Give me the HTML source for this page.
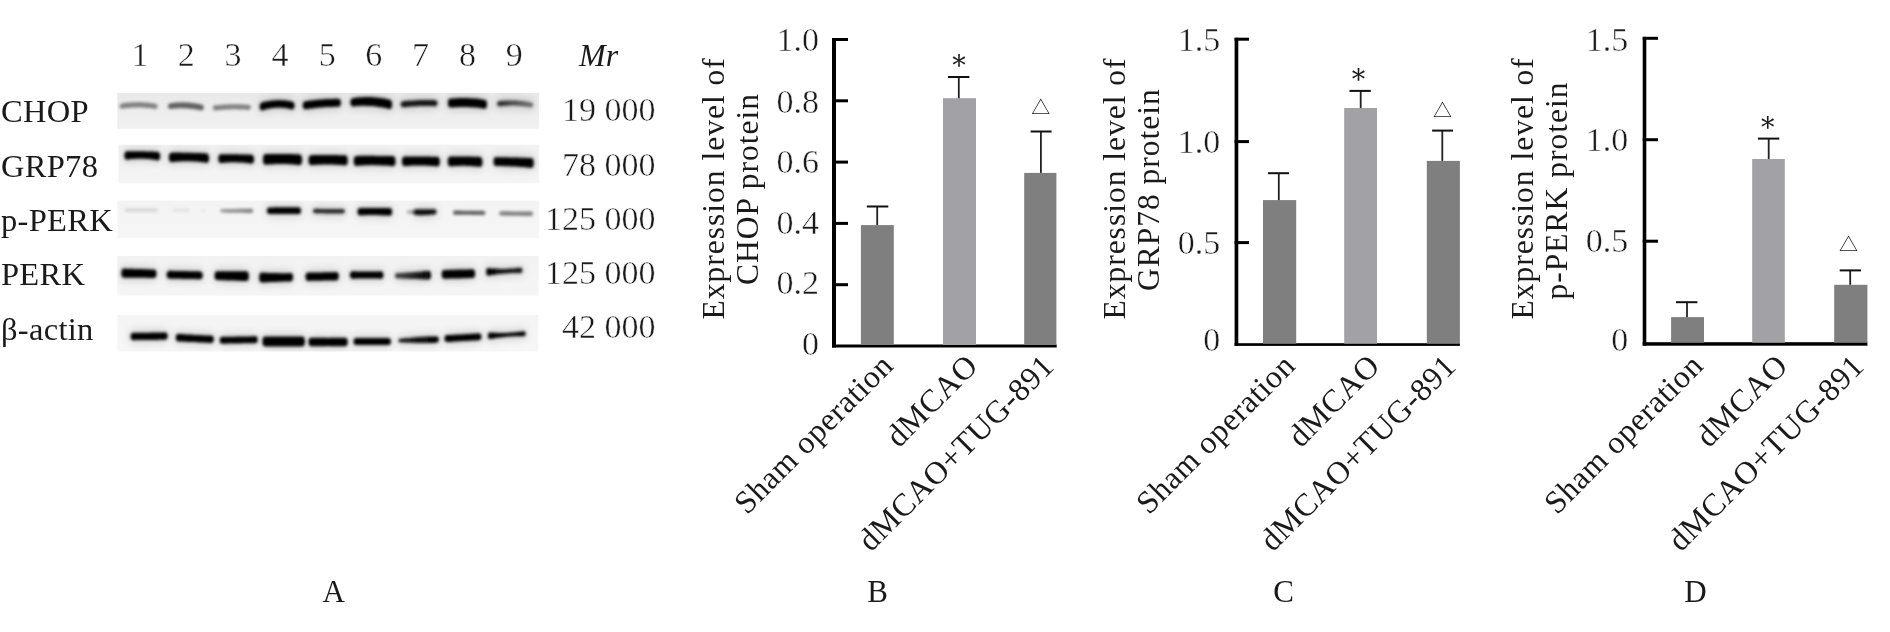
<!DOCTYPE html>
<html><head><meta charset="utf-8"><title>Figure</title><style>
html,body{margin:0;padding:0;background:#fff;}
svg{display:block;will-change:transform}
text{font-family:'Liberation Serif', serif;fill:#1a1a1a;}
.num,.tk{font-size:34px;stroke:#fff;stroke-width:0.45px;}
.mr{font-size:32px;font-style:italic;}
.lab{font-size:32.5px;letter-spacing:0.3px;}
.pl{font-size:31px;}
.yl{font-size:31.5px;letter-spacing:1px;}
.xl{font-size:32px;letter-spacing:0.55px;}
.st{font-family:'DejaVu Serif',serif;font-size:27px;}
.tr{font-family:'Liberation Serif','Noto Sans CJK SC',sans-serif;font-size:19px;}
</style></head>
<body><svg width="1890" height="632" viewBox="0 0 1890 632">
<defs><filter id="bl" x="-10%" y="-100%" width="120%" height="300%"><feGaussianBlur stdDeviation="1.7"/></filter><filter id="halo" x="-30%" y="-200%" width="160%" height="500%"><feGaussianBlur stdDeviation="4.5"/></filter><linearGradient id="sg0" x1="0" y1="0" x2="0" y2="1"><stop offset="0" stop-color="#e9e9e9"/><stop offset="1" stop-color="#f1f1f1"/></linearGradient><clipPath id="cs0"><rect x="117.3" y="93.0" width="421.6" height="35.8"/></clipPath><linearGradient id="sg1" x1="0" y1="0" x2="0" y2="1"><stop offset="0" stop-color="#f1f1f1"/><stop offset="1" stop-color="#f4f4f4"/></linearGradient><clipPath id="cs1"><rect x="118.4" y="144.8" width="420.5" height="38.5"/></clipPath><linearGradient id="sg2" x1="0" y1="0" x2="0" y2="1"><stop offset="0" stop-color="#f3f3f3"/><stop offset="1" stop-color="#f6f6f6"/></linearGradient><clipPath id="cs2"><rect x="117.5" y="200.6" width="421.4" height="37.5"/></clipPath><linearGradient id="sg3" x1="0" y1="0" x2="0" y2="1"><stop offset="0" stop-color="#f2f2f2"/><stop offset="1" stop-color="#f5f5f5"/></linearGradient><clipPath id="cs3"><rect x="117.3" y="256.0" width="421.3" height="39.6"/></clipPath><linearGradient id="sg4" x1="0" y1="0" x2="0" y2="1"><stop offset="0" stop-color="#f4f4f4"/><stop offset="1" stop-color="#f6f6f6"/></linearGradient><clipPath id="cs4"><rect x="117.3" y="315.1" width="421.0" height="36.4"/></clipPath><linearGradient id="bg0" gradientUnits="userSpaceOnUse" x1="496.8" y1="0" x2="532.6" y2="0"><stop offset="0" stop-color="rgb(38,38,38)"/><stop offset="1" stop-color="rgb(115,115,115)"/></linearGradient><linearGradient id="bg1" gradientUnits="userSpaceOnUse" x1="220.8" y1="0" x2="252.7" y2="0"><stop offset="0" stop-color="rgb(153,153,153)"/><stop offset="1" stop-color="rgb(128,128,128)"/></linearGradient><linearGradient id="bg2" gradientUnits="userSpaceOnUse" x1="406.9" y1="0" x2="416.0" y2="0"><stop offset="0" stop-color="rgb(191,191,191)"/><stop offset="1" stop-color="rgb(128,128,128)"/></linearGradient><linearGradient id="bg3" gradientUnits="userSpaceOnUse" x1="453.0" y1="0" x2="485.4" y2="0"><stop offset="0" stop-color="rgb(89,89,89)"/><stop offset="1" stop-color="rgb(102,102,102)"/></linearGradient><linearGradient id="bg4" gradientUnits="userSpaceOnUse" x1="395.5" y1="0" x2="431.4" y2="0"><stop offset="0" stop-color="rgb(71,71,71)"/><stop offset="1" stop-color="rgb(0,0,0)"/></linearGradient><linearGradient id="bg5" gradientUnits="userSpaceOnUse" x1="485.4" y1="0" x2="523.0" y2="0"><stop offset="0" stop-color="rgb(0,0,0)"/><stop offset="1" stop-color="rgb(25,25,25)"/></linearGradient><linearGradient id="bg6" gradientUnits="userSpaceOnUse" x1="399.0" y1="0" x2="438.2" y2="0"><stop offset="0" stop-color="rgb(25,25,25)"/><stop offset="1" stop-color="rgb(0,0,0)"/></linearGradient></defs>
<rect width="1890" height="632" fill="#fff"/>
<rect x="117.3" y="93.0" width="421.6" height="35.8" fill="url(#sg0)"/>
<rect x="118.4" y="144.8" width="420.5" height="38.5" fill="url(#sg1)"/>
<rect x="117.5" y="200.6" width="421.4" height="37.5" fill="url(#sg2)"/>
<rect x="117.3" y="256.0" width="421.3" height="39.6" fill="url(#sg3)"/>
<rect x="117.3" y="315.1" width="421.0" height="36.4" fill="url(#sg4)"/>
<g clip-path="url(#cs0)">
<path d="M122.2,103.4 L124.2,103.1 L126.3,102.8 L128.3,102.6 L130.4,102.4 L132.4,102.3 L134.5,102.2 L136.5,102.2 L138.6,102.1 L140.7,102.2 L142.7,102.3 L144.8,102.4 L146.8,102.6 L148.8,102.8 L150.9,103.0 L152.9,103.3 L155.0,103.7 A2.6,2.6 0 0 1 155.0,109.0 L152.9,108.6 L150.9,108.3 L148.8,108.1 L146.8,107.9 L144.8,107.7 L142.7,107.6 L140.7,107.5 L138.6,107.5 L136.5,107.5 L134.5,107.5 L132.4,107.6 L130.4,107.7 L128.3,107.9 L126.3,108.1 L124.2,108.4 L122.2,108.7 A2.6,2.6 0 0 1 122.2,103.4 Z" fill="rgb(128,128,128)" filter="url(#bl)"/>
<path d="M170.6,103.2 L172.5,103.0 L174.4,102.7 L176.3,102.6 L178.2,102.4 L180.1,102.4 L182.0,102.3 L183.9,102.3 L185.8,102.4 L187.8,102.5 L189.7,102.7 L191.6,102.9 L193.5,103.1 L195.4,103.4 L197.3,103.7 L199.2,104.1 L201.1,104.5 A2.6,3.0 0 0 1 201.1,110.6 L199.2,110.1 L197.3,109.8 L195.4,109.4 L193.5,109.1 L191.6,108.9 L189.7,108.7 L187.8,108.5 L185.8,108.4 L183.9,108.3 L182.0,108.3 L180.1,108.3 L178.2,108.3 L176.3,108.4 L174.4,108.6 L172.5,108.8 L170.6,109.0 A2.6,2.9 0 0 1 170.6,103.2 Z" fill="rgb(97,97,97)" filter="url(#bl)"/>
<path d="M215.5,105.2 L217.6,105.0 L219.6,104.9 L221.7,104.7 L223.7,104.6 L225.8,104.4 L227.8,104.4 L229.9,104.3 L231.9,104.2 L234.0,104.2 L236.0,104.2 L238.1,104.3 L240.1,104.3 L242.2,104.4 L244.2,104.5 L246.3,104.7 L248.3,104.8 A2.5,2.5 0 0 1 248.3,109.9 L246.3,109.7 L244.2,109.6 L242.2,109.5 L240.1,109.4 L238.1,109.4 L236.0,109.3 L234.0,109.3 L231.9,109.3 L229.9,109.4 L227.8,109.5 L225.8,109.6 L223.7,109.7 L221.7,109.9 L219.6,110.1 L217.6,110.3 L215.5,110.5 A2.6,2.6 0 0 1 215.5,105.2 Z" fill="rgb(128,128,128)" filter="url(#bl)"/>
<path d="M261.1,100.1 L263.1,99.6 L265.1,99.1 L267.1,98.7 L269.1,98.4 L271.1,98.1 L273.1,97.9 L275.1,97.7 L277.1,97.7 L279.1,97.6 L281.1,97.7 L283.1,97.8 L285.1,97.9 L287.1,98.1 L289.1,98.4 L291.1,98.8 L293.1,99.2 A2.6,6.6 0 0 1 293.1,112.2 L291.1,111.6 L289.1,111.2 L287.1,110.8 L285.1,110.5 L283.1,110.3 L281.1,110.2 L279.1,110.1 L277.1,110.2 L275.1,110.3 L273.1,110.5 L271.1,110.7 L269.1,111.1 L267.1,111.5 L265.1,112.1 L263.1,112.7 L261.1,113.3 A2.6,6.8 0 0 1 261.1,100.1 Z" fill="#000" opacity="0.14" filter="url(#halo)"/>
<path d="M261.6,102.6 L263.5,102.0 L265.5,101.6 L267.4,101.2 L269.4,100.9 L271.3,100.6 L273.2,100.4 L275.2,100.2 L277.1,100.2 L279.0,100.1 L281.0,100.2 L282.9,100.3 L284.8,100.4 L286.8,100.6 L288.7,100.9 L290.7,101.3 L292.6,101.7 A2.6,4.1 0 0 1 292.6,109.7 L290.7,109.1 L288.7,108.7 L286.8,108.3 L284.8,108.0 L282.9,107.8 L281.0,107.7 L279.0,107.6 L277.1,107.7 L275.2,107.8 L273.2,108.0 L271.3,108.2 L269.4,108.6 L267.4,109.0 L265.5,109.5 L263.5,110.1 L261.6,110.8 A2.6,4.2 0 0 1 261.6,102.6 Z" fill="rgb(0,0,0)" filter="url(#bl)"/>
<path d="M304.9,98.7 L307.0,98.4 L309.1,98.1 L311.3,97.9 L313.4,97.7 L315.5,97.4 L317.6,97.2 L319.7,97.1 L321.9,96.9 L324.0,96.8 L326.1,96.6 L328.2,96.5 L330.3,96.4 L332.4,96.4 L334.6,96.3 L336.7,96.3 L338.8,96.3 A2.6,6.5 0 0 1 338.8,109.3 L336.7,109.3 L334.6,109.3 L332.4,109.4 L330.3,109.4 L328.2,109.5 L326.1,109.6 L324.0,109.7 L321.9,109.9 L319.7,110.1 L317.6,110.3 L315.5,110.5 L313.4,110.7 L311.3,111.0 L309.1,111.3 L307.0,111.6 L304.9,111.9 A2.6,6.6 0 0 1 304.9,98.7 Z" fill="#000" opacity="0.14" filter="url(#halo)"/>
<path d="M305.4,101.2 L307.5,100.9 L309.5,100.6 L311.6,100.4 L313.6,100.2 L315.7,99.9 L317.7,99.7 L319.8,99.6 L321.9,99.4 L323.9,99.3 L326.0,99.1 L328.0,99.0 L330.1,98.9 L332.1,98.9 L334.2,98.8 L336.2,98.8 L338.3,98.8 A2.6,4.0 0 0 1 338.3,106.8 L336.2,106.8 L334.2,106.8 L332.1,106.9 L330.1,106.9 L328.0,107.0 L326.0,107.1 L323.9,107.2 L321.9,107.4 L319.8,107.6 L317.7,107.8 L315.7,108.0 L313.6,108.2 L311.6,108.5 L309.5,108.7 L307.5,109.0 L305.4,109.4 A2.6,4.1 0 0 1 305.4,101.2 Z" fill="rgb(0,0,0)" filter="url(#bl)"/>
<path d="M352.5,95.7 L354.9,95.3 L357.2,95.0 L359.6,94.8 L362.0,94.7 L364.4,94.6 L366.8,94.5 L369.1,94.5 L371.5,94.6 L373.9,94.7 L376.2,94.9 L378.6,95.2 L381.0,95.5 L383.4,95.8 L385.8,96.3 L388.1,96.7 L390.5,97.3 A2.6,7.2 0 0 1 390.5,111.7 L388.1,111.2 L385.8,110.6 L383.4,110.2 L381.0,109.7 L378.6,109.4 L376.2,109.1 L373.9,108.8 L371.5,108.6 L369.1,108.5 L366.8,108.4 L364.4,108.3 L362.0,108.3 L359.6,108.4 L357.2,108.6 L354.9,108.7 L352.5,109.0 A2.6,6.6 0 0 1 352.5,95.7 Z" fill="#000" opacity="0.14" filter="url(#halo)"/>
<path d="M353.0,98.2 L355.3,97.8 L357.6,97.5 L359.9,97.3 L362.2,97.2 L364.6,97.1 L366.9,97.0 L369.2,97.0 L371.5,97.1 L373.8,97.2 L376.1,97.4 L378.4,97.7 L380.8,98.0 L383.1,98.3 L385.4,98.8 L387.7,99.2 L390.0,99.8 A2.6,4.8 0 0 1 390.0,109.2 L387.7,108.6 L385.4,108.1 L383.1,107.6 L380.8,107.2 L378.4,106.9 L376.1,106.6 L373.8,106.3 L371.5,106.1 L369.2,106.0 L366.9,105.9 L364.6,105.8 L362.2,105.8 L359.9,105.9 L357.6,106.0 L355.3,106.2 L353.0,106.5 A2.6,4.1 0 0 1 353.0,98.2 Z" fill="rgb(0,0,0)" filter="url(#bl)"/>
<path d="M402.8,98.7 L404.9,98.5 L406.9,98.3 L409.0,98.2 L411.1,98.0 L413.2,97.9 L415.2,97.8 L417.3,97.7 L419.4,97.6 L421.5,97.5 L423.6,97.5 L425.6,97.5 L427.7,97.5 L429.8,97.5 L431.9,97.5 L433.9,97.6 L436.0,97.7 A2.6,5.6 0 0 1 436.0,108.8 L433.9,108.7 L431.9,108.6 L429.8,108.6 L427.7,108.5 L425.6,108.5 L423.6,108.5 L421.5,108.5 L419.4,108.6 L417.3,108.7 L415.2,108.8 L413.2,108.9 L411.1,109.0 L409.0,109.2 L406.9,109.4 L404.9,109.6 L402.8,109.9 A2.6,5.6 0 0 1 402.8,98.7 Z" fill="#000" opacity="0.14" filter="url(#halo)"/>
<path d="M403.3,101.2 L405.3,101.0 L407.3,100.8 L409.3,100.7 L411.4,100.5 L413.4,100.4 L415.4,100.3 L417.4,100.2 L419.4,100.1 L421.4,100.0 L423.4,100.0 L425.4,100.0 L427.4,100.0 L429.5,100.0 L431.5,100.0 L433.5,100.1 L435.5,100.2 A2.6,3.1 0 0 1 435.5,106.3 L433.5,106.2 L431.5,106.1 L429.5,106.1 L427.4,106.0 L425.4,106.0 L423.4,106.0 L421.4,106.0 L419.4,106.1 L417.4,106.2 L415.4,106.3 L413.4,106.4 L411.4,106.5 L409.3,106.7 L407.3,106.9 L405.3,107.1 L403.3,107.4 A2.6,3.1 0 0 1 403.3,101.2 Z" fill="rgb(20,20,20)" filter="url(#bl)"/>
<path d="M450.0,96.1 L452.2,96.0 L454.4,95.8 L456.5,95.7 L458.7,95.6 L460.9,95.6 L463.1,95.5 L465.3,95.6 L467.4,95.6 L469.6,95.7 L471.8,95.8 L474.0,95.9 L476.2,96.1 L478.4,96.3 L480.5,96.6 L482.7,96.9 L484.9,97.2 A2.6,7.0 0 0 1 484.9,111.2 L482.7,110.9 L480.5,110.6 L478.4,110.3 L476.2,110.1 L474.0,109.9 L471.8,109.8 L469.6,109.7 L467.4,109.6 L465.3,109.6 L463.1,109.5 L460.9,109.6 L458.7,109.6 L456.5,109.7 L454.4,109.8 L452.2,110.0 L450.0,110.1 A2.6,7.0 0 0 1 450.0,96.1 Z" fill="#000" opacity="0.14" filter="url(#halo)"/>
<path d="M450.5,98.6 L452.6,98.5 L454.7,98.3 L456.9,98.2 L459.0,98.1 L461.1,98.1 L463.2,98.0 L465.3,98.1 L467.4,98.1 L469.6,98.2 L471.7,98.3 L473.8,98.4 L475.9,98.6 L478.0,98.8 L480.2,99.1 L482.3,99.4 L484.4,99.7 A2.6,4.5 0 0 1 484.4,108.7 L482.3,108.4 L480.2,108.1 L478.0,107.8 L475.9,107.6 L473.8,107.4 L471.7,107.3 L469.6,107.2 L467.4,107.1 L465.3,107.1 L463.2,107.0 L461.1,107.1 L459.0,107.1 L456.9,107.2 L454.7,107.3 L452.6,107.5 L450.5,107.6 A2.6,4.5 0 0 1 450.5,98.6 Z" fill="rgb(0,0,0)" filter="url(#bl)"/>
<path d="M498.4,98.3 L500.4,98.1 L502.5,98.0 L504.5,97.9 L506.6,97.8 L508.6,97.7 L510.6,97.7 L512.7,97.7 L514.7,97.8 L516.7,97.9 L518.8,98.0 L520.8,98.2 L522.9,98.4 L524.9,98.6 L526.9,98.9 L529.0,99.2 L531.0,99.5 A2.6,5.4 0 0 1 531.0,110.2 L529.0,109.9 L526.9,109.5 L524.9,109.2 L522.9,109.0 L520.8,108.8 L518.8,108.6 L516.7,108.5 L514.7,108.4 L512.7,108.4 L510.6,108.4 L508.6,108.4 L506.6,108.5 L504.5,108.7 L502.5,108.9 L500.4,109.1 L498.4,109.4 A2.6,5.6 0 0 1 498.4,98.3 Z" fill="#000" opacity="0.14" filter="url(#halo)"/>
<path d="M498.9,101.1 L500.9,100.9 L502.9,100.7 L504.8,100.6 L506.8,100.5 L508.8,100.5 L510.8,100.5 L512.7,100.5 L514.7,100.5 L516.7,100.6 L518.6,100.8 L520.6,100.9 L522.6,101.1 L524.6,101.4 L526.5,101.6 L528.5,101.9 L530.5,102.3 A2.6,2.6 0 0 1 530.5,107.5 L528.5,107.1 L526.5,106.8 L524.6,106.5 L522.6,106.2 L520.6,106.0 L518.6,105.8 L516.7,105.7 L514.7,105.6 L512.7,105.6 L510.8,105.6 L508.8,105.7 L506.8,105.8 L504.8,105.9 L502.9,106.1 L500.9,106.3 L498.9,106.6 A2.6,2.9 0 0 1 498.9,101.1 Z" fill="url(#bg0)" filter="url(#bl)"/>
</g>
<g clip-path="url(#cs1)">
<path d="M125.7,148.7 L127.8,148.7 L129.8,148.7 L131.9,148.7 L134.0,148.7 L136.1,148.7 L138.2,148.7 L140.2,148.7 L142.3,148.8 L144.4,148.8 L146.4,148.9 L148.5,148.9 L150.6,149.0 L152.7,149.1 L154.8,149.2 L156.8,149.3 L158.9,149.4 A2.6,7.0 0 0 1 158.9,163.1 L156.8,162.7 L154.8,162.3 L152.7,162.0 L150.6,161.8 L148.5,161.6 L146.4,161.4 L144.4,161.3 L142.3,161.2 L140.2,161.2 L138.2,161.3 L136.1,161.3 L134.0,161.4 L131.9,161.6 L129.8,161.8 L127.8,162.1 L125.7,162.4 A2.6,7.0 0 0 1 125.7,148.7 Z" fill="#000" opacity="0.14" filter="url(#halo)"/>
<path d="M126.2,151.2 L128.2,151.2 L130.2,151.2 L132.2,151.2 L134.2,151.2 L136.3,151.2 L138.3,151.2 L140.3,151.2 L142.3,151.2 L144.3,151.3 L146.3,151.4 L148.3,151.4 L150.3,151.5 L152.4,151.6 L154.4,151.7 L156.4,151.8 L158.4,151.9 A2.6,4.5 0 0 1 158.4,160.5 L156.4,160.2 L154.4,159.8 L152.4,159.5 L150.3,159.3 L148.3,159.1 L146.3,158.9 L144.3,158.8 L142.3,158.8 L140.3,158.7 L138.3,158.8 L136.3,158.8 L134.2,158.9 L132.2,159.1 L130.2,159.3 L128.2,159.6 L126.2,159.9 A2.6,4.5 0 0 1 126.2,151.2 Z" fill="rgb(0,0,0)" filter="url(#bl)"/>
<path d="M170.3,150.2 L172.6,150.1 L175.0,150.1 L177.3,150.1 L179.6,150.1 L182.0,150.2 L184.3,150.2 L186.6,150.2 L188.9,150.2 L191.3,150.3 L193.6,150.4 L195.9,150.4 L198.3,150.5 L200.6,150.6 L202.9,150.7 L205.3,150.8 L207.6,150.9 A2.6,7.4 0 0 1 207.6,165.4 L205.3,165.0 L202.9,164.7 L200.6,164.5 L198.3,164.2 L195.9,164.1 L193.6,163.9 L191.3,163.8 L188.9,163.8 L186.6,163.7 L184.3,163.7 L182.0,163.8 L179.6,163.9 L177.3,164.0 L175.0,164.2 L172.6,164.4 L170.3,164.7 A2.6,7.4 0 0 1 170.3,150.2 Z" fill="#000" opacity="0.14" filter="url(#halo)"/>
<path d="M170.8,152.7 L173.1,152.6 L175.3,152.6 L177.6,152.6 L179.9,152.6 L182.1,152.7 L184.4,152.7 L186.7,152.7 L188.9,152.8 L191.2,152.8 L193.5,152.9 L195.8,152.9 L198.0,153.0 L200.3,153.1 L202.6,153.2 L204.8,153.3 L207.1,153.4 A2.6,4.9 0 0 1 207.1,162.9 L204.8,162.5 L202.6,162.2 L200.3,162.0 L198.0,161.7 L195.8,161.6 L193.5,161.4 L191.2,161.3 L188.9,161.2 L186.7,161.2 L184.4,161.2 L182.1,161.3 L179.9,161.4 L177.6,161.5 L175.3,161.7 L173.1,161.9 L170.8,162.2 A2.6,4.9 0 0 1 170.8,152.7 Z" fill="rgb(0,0,0)" filter="url(#bl)"/>
<path d="M219.6,151.8 L221.7,151.7 L223.8,151.7 L225.8,151.7 L227.9,151.7 L230.0,151.7 L232.1,151.7 L234.1,151.8 L236.2,151.8 L238.3,151.8 L240.3,151.9 L242.4,151.9 L244.5,152.0 L246.6,152.0 L248.7,152.1 L250.7,152.2 L252.8,152.3 A2.6,7.2 0 0 1 252.8,166.3 L250.7,166.0 L248.7,165.7 L246.6,165.5 L244.5,165.3 L242.4,165.1 L240.3,165.0 L238.3,164.9 L236.2,164.8 L234.1,164.8 L232.1,164.8 L230.0,164.8 L227.9,164.9 L225.8,165.1 L223.8,165.2 L221.7,165.4 L219.6,165.7 A2.6,7.1 0 0 1 219.6,151.8 Z" fill="#000" opacity="0.14" filter="url(#halo)"/>
<path d="M220.1,154.3 L222.1,154.2 L224.1,154.2 L226.1,154.2 L228.2,154.2 L230.2,154.2 L232.2,154.2 L234.2,154.3 L236.2,154.3 L238.2,154.3 L240.2,154.4 L242.2,154.4 L244.2,154.5 L246.3,154.5 L248.3,154.6 L250.3,154.7 L252.3,154.8 A2.6,4.7 0 0 1 252.3,163.8 L250.3,163.5 L248.3,163.2 L246.3,163.0 L244.2,162.8 L242.2,162.6 L240.2,162.5 L238.2,162.4 L236.2,162.3 L234.2,162.3 L232.2,162.3 L230.2,162.3 L228.2,162.4 L226.1,162.5 L224.1,162.7 L222.1,162.9 L220.1,163.1 A2.6,4.6 0 0 1 220.1,154.3 Z" fill="rgb(0,0,0)" filter="url(#bl)"/>
<path d="M264.5,151.6 L266.8,151.5 L269.0,151.5 L271.2,151.5 L273.5,151.5 L275.8,151.5 L278.0,151.5 L280.2,151.5 L282.5,151.5 L284.8,151.5 L287.0,151.6 L289.2,151.6 L291.5,151.6 L293.8,151.7 L296.0,151.8 L298.2,151.8 L300.5,151.9 A2.6,8.0 0 0 1 300.5,167.7 L298.2,167.4 L296.0,167.2 L293.8,167.0 L291.5,166.8 L289.2,166.7 L287.0,166.6 L284.8,166.5 L282.5,166.5 L280.2,166.5 L278.0,166.5 L275.8,166.6 L273.5,166.7 L271.2,166.8 L269.0,166.9 L266.8,167.1 L264.5,167.3 A2.6,8.0 0 0 1 264.5,151.6 Z" fill="#000" opacity="0.14" filter="url(#halo)"/>
<path d="M265.0,154.1 L267.2,154.0 L269.4,154.0 L271.6,154.0 L273.8,154.0 L275.9,154.0 L278.1,154.0 L280.3,154.0 L282.5,154.0 L284.7,154.0 L286.9,154.1 L289.1,154.1 L291.2,154.1 L293.4,154.2 L295.6,154.3 L297.8,154.3 L300.0,154.4 A2.6,5.5 0 0 1 300.0,165.2 L297.8,164.9 L295.6,164.7 L293.4,164.5 L291.2,164.3 L289.1,164.2 L286.9,164.1 L284.7,164.0 L282.5,164.0 L280.3,164.0 L278.1,164.0 L275.9,164.1 L273.8,164.2 L271.6,164.3 L269.4,164.4 L267.2,164.6 L265.0,164.8 A2.6,5.5 0 0 1 265.0,154.1 Z" fill="rgb(0,0,0)" filter="url(#bl)"/>
<path d="M310.0,152.7 L312.3,152.6 L314.5,152.6 L316.8,152.6 L319.1,152.6 L321.3,152.5 L323.6,152.5 L325.8,152.5 L328.1,152.6 L330.4,152.6 L332.6,152.6 L334.9,152.6 L337.1,152.6 L339.4,152.7 L341.7,152.7 L343.9,152.8 L346.2,152.8 A2.6,7.7 0 0 1 346.2,168.0 L343.9,167.8 L341.7,167.6 L339.4,167.4 L337.1,167.3 L334.9,167.2 L332.6,167.1 L330.4,167.1 L328.1,167.1 L325.8,167.1 L323.6,167.1 L321.3,167.1 L319.1,167.2 L316.8,167.3 L314.5,167.5 L312.3,167.6 L310.0,167.8 A2.6,7.7 0 0 1 310.0,152.7 Z" fill="#000" opacity="0.14" filter="url(#halo)"/>
<path d="M310.5,155.2 L312.7,155.1 L314.9,155.1 L317.1,155.1 L319.3,155.1 L321.5,155.0 L323.7,155.0 L325.9,155.0 L328.1,155.1 L330.3,155.1 L332.5,155.1 L334.7,155.1 L336.9,155.1 L339.1,155.2 L341.3,155.2 L343.5,155.3 L345.7,155.3 A2.6,5.2 0 0 1 345.7,165.5 L343.5,165.3 L341.3,165.1 L339.1,164.9 L336.9,164.8 L334.7,164.7 L332.5,164.6 L330.3,164.6 L328.1,164.6 L325.9,164.6 L323.7,164.6 L321.5,164.6 L319.3,164.7 L317.1,164.8 L314.9,165.0 L312.7,165.1 L310.5,165.3 A2.6,5.2 0 0 1 310.5,155.2 Z" fill="rgb(0,0,0)" filter="url(#bl)"/>
<path d="M355.3,153.4 L357.7,153.4 L360.1,153.3 L362.5,153.3 L364.9,153.3 L367.4,153.3 L369.8,153.3 L372.2,153.3 L374.6,153.3 L377.0,153.4 L379.4,153.4 L381.8,153.4 L384.2,153.5 L386.7,153.5 L389.1,153.5 L391.5,153.6 L393.9,153.6 A2.6,7.7 0 0 1 393.9,168.8 L391.5,168.6 L389.1,168.3 L386.7,168.2 L384.2,168.0 L381.8,167.9 L379.4,167.8 L377.0,167.7 L374.6,167.7 L372.2,167.6 L369.8,167.7 L367.4,167.7 L364.9,167.8 L362.5,167.9 L360.1,168.0 L357.7,168.2 L355.3,168.4 A2.6,7.6 0 0 1 355.3,153.4 Z" fill="#000" opacity="0.14" filter="url(#halo)"/>
<path d="M355.8,155.9 L358.2,155.9 L360.5,155.8 L362.9,155.8 L365.2,155.8 L367.6,155.8 L369.9,155.8 L372.2,155.8 L374.6,155.8 L376.9,155.9 L379.3,155.9 L381.6,155.9 L384.0,156.0 L386.3,156.0 L388.7,156.0 L391.0,156.1 L393.4,156.1 A2.6,5.2 0 0 1 393.4,166.3 L391.0,166.1 L388.7,165.8 L386.3,165.6 L384.0,165.5 L381.6,165.4 L379.3,165.3 L376.9,165.2 L374.6,165.2 L372.2,165.1 L369.9,165.2 L367.6,165.2 L365.2,165.3 L362.9,165.4 L360.5,165.5 L358.2,165.7 L355.8,165.9 A2.6,5.1 0 0 1 355.8,155.9 Z" fill="rgb(0,0,0)" filter="url(#bl)"/>
<path d="M403.4,154.0 L405.6,154.0 L407.8,154.0 L409.9,154.0 L412.1,154.0 L414.3,154.0 L416.5,154.0 L418.7,154.0 L420.9,154.0 L423.0,154.0 L425.2,154.1 L427.4,154.1 L429.6,154.1 L431.8,154.2 L433.9,154.2 L436.1,154.3 L438.3,154.3 A2.6,7.5 0 0 1 438.3,169.1 L436.1,168.8 L433.9,168.6 L431.8,168.5 L429.6,168.3 L427.4,168.2 L425.2,168.1 L423.0,168.0 L420.9,168.0 L418.7,168.0 L416.5,168.0 L414.3,168.1 L412.1,168.1 L409.9,168.2 L407.8,168.4 L405.6,168.5 L403.4,168.7 A2.6,7.5 0 0 1 403.4,154.0 Z" fill="#000" opacity="0.14" filter="url(#halo)"/>
<path d="M403.9,156.5 L406.0,156.5 L408.1,156.5 L410.3,156.5 L412.4,156.5 L414.5,156.5 L416.6,156.5 L418.7,156.5 L420.9,156.5 L423.0,156.5 L425.1,156.6 L427.2,156.6 L429.3,156.6 L431.4,156.7 L433.6,156.7 L435.7,156.8 L437.8,156.8 A2.6,5.0 0 0 1 437.8,166.6 L435.7,166.3 L433.6,166.1 L431.4,166.0 L429.3,165.8 L427.2,165.7 L425.1,165.6 L423.0,165.5 L420.9,165.5 L418.7,165.5 L416.6,165.5 L414.5,165.6 L412.4,165.6 L410.3,165.7 L408.1,165.9 L406.0,166.0 L403.9,166.2 A2.6,5.0 0 0 1 403.9,156.5 Z" fill="rgb(0,0,0)" filter="url(#bl)"/>
<path d="M449.2,154.1 L451.2,154.0 L453.2,154.0 L455.2,154.0 L457.2,154.0 L459.1,154.0 L461.1,154.0 L463.1,154.0 L465.1,154.0 L467.1,154.1 L469.1,154.1 L471.1,154.1 L473.1,154.2 L475.0,154.2 L477.0,154.3 L479.0,154.3 L481.0,154.4 A2.6,7.7 0 0 1 481.0,169.5 L479.0,169.3 L477.0,169.1 L475.0,168.9 L473.1,168.7 L471.1,168.6 L469.1,168.5 L467.1,168.4 L465.1,168.3 L463.1,168.3 L461.1,168.3 L459.1,168.4 L457.2,168.5 L455.2,168.5 L453.2,168.7 L451.2,168.8 L449.2,169.0 A2.6,7.6 0 0 1 449.2,154.1 Z" fill="#000" opacity="0.14" filter="url(#halo)"/>
<path d="M449.7,156.6 L451.6,156.5 L453.6,156.5 L455.5,156.5 L457.4,156.5 L459.3,156.5 L461.2,156.5 L463.2,156.5 L465.1,156.5 L467.0,156.6 L469.0,156.6 L470.9,156.6 L472.8,156.7 L474.7,156.7 L476.6,156.8 L478.6,156.8 L480.5,156.9 A2.6,5.2 0 0 1 480.5,167.0 L478.6,166.8 L476.6,166.6 L474.7,166.4 L472.8,166.2 L470.9,166.1 L469.0,166.0 L467.0,165.9 L465.1,165.8 L463.2,165.8 L461.2,165.8 L459.3,165.9 L457.4,166.0 L455.5,166.0 L453.6,166.2 L451.6,166.3 L449.7,166.5 A2.6,5.1 0 0 1 449.7,156.6 Z" fill="rgb(0,0,0)" filter="url(#bl)"/>
<path d="M495.6,154.6 L497.9,154.7 L500.2,154.7 L502.5,154.8 L504.8,154.8 L507.0,154.8 L509.3,154.9 L511.6,154.9 L513.9,155.0 L516.2,155.1 L518.5,155.1 L520.8,155.2 L523.0,155.2 L525.3,155.3 L527.6,155.4 L529.9,155.4 L532.2,155.5 A2.6,7.6 0 0 1 532.2,170.5 L529.9,170.3 L527.6,170.0 L525.3,169.8 L523.0,169.6 L520.8,169.4 L518.5,169.3 L516.2,169.1 L513.9,169.0 L511.6,168.9 L509.3,168.8 L507.0,168.7 L504.8,168.7 L502.5,168.6 L500.2,168.6 L497.9,168.6 L495.6,168.6 A2.6,7.0 0 0 1 495.6,154.6 Z" fill="#000" opacity="0.14" filter="url(#halo)"/>
<path d="M496.1,157.1 L498.3,157.2 L500.6,157.2 L502.8,157.3 L505.0,157.3 L507.2,157.3 L509.4,157.4 L511.7,157.4 L513.9,157.5 L516.1,157.6 L518.3,157.6 L520.6,157.7 L522.8,157.7 L525.0,157.8 L527.2,157.9 L529.5,157.9 L531.7,158.0 A2.6,5.1 0 0 1 531.7,168.0 L529.5,167.7 L527.2,167.5 L525.0,167.3 L522.8,167.1 L520.6,166.9 L518.3,166.8 L516.1,166.6 L513.9,166.5 L511.7,166.4 L509.4,166.3 L507.2,166.2 L505.0,166.2 L502.8,166.1 L500.6,166.1 L498.3,166.1 L496.1,166.1 A2.6,4.5 0 0 1 496.1,157.1 Z" fill="rgb(0,0,0)" filter="url(#bl)"/>
</g>
<g clip-path="url(#cs2)">
<path d="M125.9,208.5 L127.8,208.5 L129.7,208.5 L131.6,208.5 L133.6,208.5 L135.5,208.5 L137.4,208.5 L139.3,208.5 L141.2,208.5 L143.1,208.5 L145.0,208.5 L146.9,208.5 L148.8,208.5 L150.8,208.5 L152.7,208.5 L154.6,208.5 L156.5,208.5 A1.7,1.7 0 0 1 156.5,211.9 L154.6,211.9 L152.7,211.9 L150.8,211.9 L148.8,211.9 L146.9,211.9 L145.0,211.9 L143.1,211.9 L141.2,211.9 L139.3,211.9 L137.4,211.9 L135.5,211.9 L133.6,211.9 L131.6,211.9 L129.7,211.9 L127.8,211.9 L125.9,211.9 A1.7,1.7 0 0 1 125.9,208.5 Z" fill="rgb(214,214,214)" filter="url(#bl)"/>
<path d="M174.0,208.7 L174.9,208.7 L175.8,208.7 L176.6,208.7 L177.5,208.7 L178.4,208.7 L179.2,208.7 L180.1,208.7 L181.0,208.7 L181.9,208.7 L182.8,208.7 L183.6,208.7 L184.5,208.7 L185.4,208.7 L186.2,208.7 L187.1,208.7 L188.0,208.7 A1.5,1.5 0 0 1 188.0,211.7 L187.1,211.7 L186.2,211.7 L185.4,211.7 L184.5,211.7 L183.6,211.7 L182.8,211.7 L181.9,211.7 L181.0,211.7 L180.1,211.7 L179.2,211.7 L178.4,211.7 L177.5,211.7 L176.6,211.7 L175.8,211.7 L174.9,211.7 L174.0,211.7 A1.5,1.5 0 0 1 174.0,208.7 Z" fill="rgb(224,224,224)" filter="url(#bl)"/>
<path d="M201.9,209.4 L202.1,209.3 L202.2,209.3 L202.3,209.4 L202.5,209.3 L202.6,209.4 L202.7,209.4 L202.9,209.4 L203.0,209.4 L203.1,209.4 L203.3,209.4 L203.4,209.4 L203.5,209.4 L203.7,209.4 L203.8,209.4 L203.9,209.3 L204.1,209.4 A1.4,1.4 0 0 1 204.1,212.3 L203.9,212.2 L203.8,212.2 L203.7,212.2 L203.5,212.2 L203.4,212.2 L203.3,212.2 L203.1,212.2 L203.0,212.2 L202.9,212.2 L202.7,212.3 L202.6,212.2 L202.5,212.2 L202.3,212.2 L202.2,212.2 L202.1,212.2 L201.9,212.2 A1.4,1.4 0 0 1 201.9,209.4 Z" fill="rgb(230,230,230)" filter="url(#bl)"/>
<path d="M222.1,209.0 L223.9,209.0 L225.7,209.0 L227.5,208.9 L229.3,208.9 L231.1,208.9 L232.9,208.9 L234.7,208.9 L236.6,208.9 L238.4,208.8 L240.2,208.8 L242.0,208.8 L243.8,208.8 L245.6,208.7 L247.4,208.7 L249.2,208.7 L251.0,208.6 A2.2,2.2 0 0 1 251.0,213.0 L249.2,212.9 L247.4,212.9 L245.6,212.9 L243.8,212.8 L242.0,212.8 L240.2,212.8 L238.4,212.8 L236.6,212.7 L234.7,212.7 L232.9,212.7 L231.1,212.7 L229.3,212.7 L227.5,212.7 L225.7,212.6 L223.9,212.6 L222.1,212.6 A1.8,1.8 0 0 1 222.1,209.0 Z" fill="url(#bg1)" filter="url(#bl)"/>
<path d="M268.5,204.8 L270.4,204.8 L272.4,204.8 L274.3,204.7 L276.2,204.7 L278.2,204.7 L280.1,204.7 L282.0,204.7 L283.9,204.7 L285.9,204.7 L287.8,204.7 L289.7,204.7 L291.7,204.7 L293.6,204.7 L295.5,204.7 L297.5,204.7 L299.4,204.7 A2.6,6.1 0 0 1 299.4,216.8 L297.5,216.7 L295.5,216.7 L293.6,216.6 L291.7,216.6 L289.7,216.6 L287.8,216.5 L285.9,216.5 L283.9,216.5 L282.0,216.5 L280.1,216.5 L278.2,216.5 L276.2,216.5 L274.3,216.6 L272.4,216.6 L270.4,216.7 L268.5,216.7 A2.6,6.0 0 0 1 268.5,204.8 Z" fill="#000" opacity="0.14" filter="url(#halo)"/>
<path d="M269.0,207.4 L270.9,207.4 L272.7,207.4 L274.6,207.3 L276.5,207.3 L278.3,207.3 L280.2,207.3 L282.1,207.3 L283.9,207.3 L285.8,207.3 L287.7,207.3 L289.6,207.3 L291.4,207.3 L293.3,207.3 L295.2,207.3 L297.0,207.3 L298.9,207.3 A2.6,3.5 0 0 1 298.9,214.2 L297.0,214.1 L295.2,214.1 L293.3,214.0 L291.4,214.0 L289.6,214.0 L287.7,213.9 L285.8,213.9 L283.9,213.9 L282.1,213.9 L280.2,213.9 L278.3,213.9 L276.5,213.9 L274.6,214.0 L272.7,214.0 L270.9,214.1 L269.0,214.1 A2.6,3.4 0 0 1 269.0,207.4 Z" fill="rgb(0,0,0)" filter="url(#bl)"/>
<path d="M314.6,206.0 L316.4,206.0 L318.2,206.0 L320.0,206.1 L321.8,206.1 L323.6,206.1 L325.4,206.2 L327.2,206.2 L328.9,206.2 L330.7,206.2 L332.5,206.2 L334.3,206.3 L336.1,206.3 L337.9,206.3 L339.7,206.3 L341.5,206.3 L343.3,206.3 A2.6,5.1 0 0 1 343.3,216.4 L341.5,216.4 L339.7,216.4 L337.9,216.3 L336.1,216.3 L334.3,216.3 L332.5,216.2 L330.7,216.2 L328.9,216.2 L327.2,216.2 L325.4,216.2 L323.6,216.1 L321.8,216.1 L320.0,216.1 L318.2,216.1 L316.4,216.1 L314.6,216.1 A2.6,5.1 0 0 1 314.6,206.0 Z" fill="#000" opacity="0.14" filter="url(#halo)"/>
<path d="M314.8,208.8 L316.6,208.8 L318.3,208.8 L320.1,208.9 L321.9,208.9 L323.6,208.9 L325.4,209.0 L327.2,209.0 L328.9,209.0 L330.7,209.0 L332.5,209.0 L334.3,209.1 L336.0,209.1 L337.8,209.1 L339.6,209.1 L341.3,209.1 L343.1,209.1 A2.3,2.3 0 0 1 343.1,213.6 L341.3,213.6 L339.6,213.6 L337.8,213.5 L336.0,213.5 L334.3,213.5 L332.5,213.4 L330.7,213.4 L328.9,213.4 L327.2,213.4 L325.4,213.4 L323.6,213.3 L321.9,213.3 L320.1,213.3 L318.3,213.3 L316.6,213.3 L314.8,213.3 A2.3,2.3 0 0 1 314.8,208.8 Z" fill="rgb(38,38,38)" filter="url(#bl)"/>
<path d="M359.6,205.4 L361.5,205.4 L363.5,205.4 L365.4,205.4 L367.3,205.3 L369.3,205.3 L371.2,205.3 L373.1,205.3 L375.1,205.3 L377.0,205.3 L378.9,205.3 L380.8,205.3 L382.8,205.3 L384.7,205.4 L386.6,205.4 L388.6,205.4 L390.5,205.4 A2.6,6.5 0 0 1 390.5,218.3 L388.6,218.2 L386.6,218.1 L384.7,218.0 L382.8,217.9 L380.8,217.8 L378.9,217.8 L377.0,217.7 L375.1,217.7 L373.1,217.7 L371.2,217.7 L369.3,217.7 L367.3,217.7 L365.4,217.8 L363.5,217.8 L361.5,217.9 L359.6,218.0 A2.6,6.3 0 0 1 359.6,205.4 Z" fill="#000" opacity="0.14" filter="url(#halo)"/>
<path d="M360.1,208.0 L362.0,208.0 L363.8,208.0 L365.7,208.0 L367.6,207.9 L369.4,207.9 L371.3,207.9 L373.2,207.9 L375.1,207.9 L376.9,207.9 L378.8,207.9 L380.7,207.9 L382.5,207.9 L384.4,208.0 L386.3,208.0 L388.1,208.0 L390.0,208.0 A2.6,3.9 0 0 1 390.0,215.7 L388.1,215.6 L386.3,215.5 L384.4,215.4 L382.5,215.3 L380.7,215.2 L378.8,215.2 L376.9,215.1 L375.1,215.1 L373.2,215.1 L371.3,215.1 L369.4,215.1 L367.6,215.1 L365.7,215.2 L363.8,215.2 L362.0,215.3 L360.1,215.4 A2.6,3.7 0 0 1 360.1,208.0 Z" fill="rgb(0,0,0)" filter="url(#bl)"/>
<path d="M408.1,210.3 L408.5,210.3 L408.9,210.3 L409.3,210.3 L409.7,210.3 L410.1,210.3 L410.5,210.3 L410.9,210.3 L411.3,210.3 L411.7,210.3 L412.1,210.3 L412.5,210.3 L412.9,210.3 L413.3,210.2 L413.7,210.2 L414.1,210.2 L414.6,210.2 A1.9,1.9 0 0 1 414.6,213.8 L414.1,213.8 L413.7,213.8 L413.3,213.8 L412.9,213.7 L412.5,213.7 L412.1,213.7 L411.7,213.7 L411.3,213.7 L410.9,213.7 L410.5,213.7 L410.1,213.7 L409.7,213.7 L409.3,213.7 L408.9,213.7 L408.5,213.7 L408.1,213.7 A1.7,1.7 0 0 1 408.1,210.3 Z" fill="url(#bg2)" filter="url(#bl)"/>
<path d="M415.9,206.6 L417.1,206.6 L418.2,206.6 L419.4,206.7 L420.5,206.7 L421.7,206.7 L422.8,206.7 L423.9,206.7 L425.1,206.7 L426.2,206.7 L427.4,206.7 L428.5,206.7 L429.7,206.7 L430.8,206.7 L432.0,206.6 L433.1,206.6 L434.3,206.6 A2.6,5.0 0 0 1 434.3,216.9 L433.1,217.0 L432.0,217.2 L430.8,217.3 L429.7,217.4 L428.5,217.5 L427.4,217.6 L426.2,217.6 L425.1,217.7 L423.9,217.7 L422.8,217.8 L421.7,217.8 L420.5,217.8 L419.4,217.8 L418.2,217.8 L417.1,217.7 L415.9,217.7 A2.6,5.5 0 0 1 415.9,206.6 Z" fill="#000" opacity="0.14" filter="url(#halo)"/>
<path d="M416.4,209.2 L417.5,209.2 L418.6,209.2 L419.7,209.3 L420.8,209.3 L421.9,209.3 L423.0,209.3 L424.1,209.3 L425.2,209.3 L426.3,209.3 L427.4,209.3 L428.5,209.3 L429.6,209.3 L430.7,209.3 L431.8,209.2 L432.9,209.2 L434.0,209.2 A2.4,2.4 0 0 1 434.0,214.3 L432.9,214.4 L431.8,214.6 L430.7,214.7 L429.6,214.8 L428.5,214.9 L427.4,215.0 L426.3,215.0 L425.2,215.1 L424.1,215.1 L423.0,215.2 L421.9,215.2 L420.8,215.2 L419.7,215.2 L418.6,215.2 L417.5,215.1 L416.4,215.1 A2.6,2.9 0 0 1 416.4,209.2 Z" fill="rgb(13,13,13)" filter="url(#bl)"/>
<path d="M454.7,210.5 L456.5,210.5 L458.3,210.6 L460.1,210.6 L461.9,210.7 L463.7,210.7 L465.5,210.8 L467.3,210.8 L469.1,210.8 L471.0,210.8 L472.8,210.8 L474.6,210.8 L476.4,210.8 L478.2,210.8 L480.0,210.8 L481.8,210.8 L483.6,210.7 A2.3,2.3 0 0 1 483.6,215.2 L481.8,215.1 L480.0,215.1 L478.2,215.0 L476.4,215.0 L474.6,214.9 L472.8,214.9 L471.0,214.8 L469.1,214.8 L467.3,214.8 L465.5,214.8 L463.7,214.7 L461.9,214.7 L460.1,214.7 L458.3,214.7 L456.5,214.8 L454.7,214.8 A2.2,2.2 0 0 1 454.7,210.5 Z" fill="url(#bg3)" filter="url(#bl)"/>
<path d="M501.3,211.2 L503.2,211.2 L505.0,211.3 L506.9,211.3 L508.7,211.3 L510.6,211.3 L512.4,211.4 L514.2,211.4 L516.1,211.4 L518.0,211.4 L519.8,211.4 L521.6,211.5 L523.5,211.5 L525.4,211.5 L527.2,211.5 L529.0,211.6 L530.9,211.6 A2.2,2.2 0 0 1 530.9,216.0 L529.0,216.0 L527.2,215.9 L525.4,215.9 L523.5,215.9 L521.6,215.9 L519.8,215.8 L518.0,215.8 L516.1,215.8 L514.2,215.8 L512.4,215.8 L510.6,215.7 L508.7,215.7 L506.9,215.7 L505.0,215.7 L503.2,215.6 L501.3,215.6 A2.2,2.2 0 0 1 501.3,211.2 Z" fill="rgb(128,128,128)" filter="url(#bl)"/>
</g>
<g clip-path="url(#cs3)">
<path d="M122.9,266.0 L124.9,266.0 L126.8,266.1 L128.8,266.1 L130.8,266.2 L132.7,266.2 L134.7,266.3 L136.7,266.3 L138.7,266.4 L140.6,266.5 L142.6,266.5 L144.6,266.6 L146.5,266.7 L148.5,266.7 L150.5,266.8 L152.4,266.9 L154.4,266.9 A2.6,6.8 0 0 1 154.4,280.5 L152.4,280.5 L150.5,280.5 L148.5,280.5 L146.5,280.4 L144.6,280.4 L142.6,280.4 L140.6,280.4 L138.7,280.4 L136.7,280.4 L134.7,280.4 L132.7,280.4 L130.8,280.4 L128.8,280.4 L126.8,280.4 L124.9,280.4 L122.9,280.4 A2.6,7.2 0 0 1 122.9,266.0 Z" fill="#000" opacity="0.14" filter="url(#halo)"/>
<path d="M123.4,268.6 L125.3,268.6 L127.2,268.7 L129.1,268.7 L131.0,268.8 L132.9,268.8 L134.8,268.9 L136.7,268.9 L138.7,269.0 L140.6,269.1 L142.5,269.1 L144.4,269.2 L146.3,269.3 L148.2,269.3 L150.1,269.4 L152.0,269.5 L153.9,269.5 A2.6,4.2 0 0 1 153.9,277.9 L152.0,277.9 L150.1,277.9 L148.2,277.9 L146.3,277.8 L144.4,277.8 L142.5,277.8 L140.6,277.8 L138.7,277.8 L136.7,277.8 L134.8,277.8 L132.9,277.8 L131.0,277.8 L129.1,277.8 L127.2,277.8 L125.3,277.8 L123.4,277.8 A2.6,4.7 0 0 1 123.4,268.6 Z" fill="rgb(0,0,0)" filter="url(#bl)"/>
<path d="M168.4,268.1 L170.4,268.1 L172.5,268.2 L174.5,268.3 L176.6,268.3 L178.6,268.4 L180.6,268.4 L182.7,268.5 L184.7,268.5 L186.7,268.5 L188.8,268.6 L190.8,268.6 L192.8,268.7 L194.9,268.7 L196.9,268.7 L199.0,268.7 L201.0,268.8 A2.6,6.6 0 0 1 201.0,281.9 L199.0,281.9 L196.9,281.8 L194.9,281.7 L192.8,281.7 L190.8,281.6 L188.8,281.6 L186.7,281.5 L184.7,281.5 L182.7,281.5 L180.6,281.4 L178.6,281.4 L176.6,281.3 L174.5,281.3 L172.5,281.3 L170.4,281.3 L168.4,281.2 A2.6,6.6 0 0 1 168.4,268.1 Z" fill="#000" opacity="0.14" filter="url(#halo)"/>
<path d="M168.9,270.7 L170.9,270.7 L172.8,270.8 L174.8,270.9 L176.8,270.9 L178.8,271.0 L180.8,271.0 L182.7,271.1 L184.7,271.1 L186.7,271.1 L188.7,271.2 L190.6,271.2 L192.6,271.3 L194.6,271.3 L196.6,271.3 L198.5,271.3 L200.5,271.4 A2.6,4.0 0 0 1 200.5,279.3 L198.5,279.3 L196.6,279.2 L194.6,279.1 L192.6,279.1 L190.6,279.0 L188.7,279.0 L186.7,278.9 L184.7,278.9 L182.7,278.9 L180.8,278.8 L178.8,278.8 L176.8,278.7 L174.8,278.7 L172.8,278.7 L170.9,278.7 L168.9,278.6 A2.6,4.0 0 0 1 168.9,270.7 Z" fill="rgb(0,0,0)" filter="url(#bl)"/>
<path d="M216.7,268.6 L218.6,268.6 L220.5,268.6 L222.4,268.6 L224.3,268.6 L226.2,268.6 L228.1,268.6 L230.0,268.6 L231.9,268.6 L233.8,268.6 L235.7,268.6 L237.6,268.6 L239.5,268.6 L241.4,268.6 L243.3,268.6 L245.2,268.6 L247.1,268.6 A2.6,7.6 0 0 1 247.1,283.7 L245.2,283.6 L243.3,283.6 L241.4,283.5 L239.5,283.4 L237.6,283.3 L235.7,283.3 L233.8,283.2 L231.9,283.1 L230.0,283.1 L228.1,283.0 L226.2,283.0 L224.3,282.9 L222.4,282.8 L220.5,282.8 L218.6,282.7 L216.7,282.7 A2.6,7.0 0 0 1 216.7,268.6 Z" fill="#000" opacity="0.14" filter="url(#halo)"/>
<path d="M217.2,271.2 L219.0,271.2 L220.9,271.2 L222.7,271.2 L224.5,271.2 L226.4,271.2 L228.2,271.2 L230.1,271.2 L231.9,271.2 L233.7,271.2 L235.6,271.2 L237.4,271.2 L239.2,271.2 L241.1,271.2 L242.9,271.2 L244.8,271.2 L246.6,271.2 A2.6,5.0 0 0 1 246.6,281.1 L244.8,281.0 L242.9,281.0 L241.1,280.9 L239.2,280.8 L237.4,280.7 L235.6,280.7 L233.7,280.6 L231.9,280.5 L230.1,280.5 L228.2,280.4 L226.4,280.4 L224.5,280.3 L222.7,280.2 L220.9,280.2 L219.0,280.1 L217.2,280.1 A2.6,4.4 0 0 1 217.2,271.2 Z" fill="rgb(0,0,0)" filter="url(#bl)"/>
<path d="M260.5,269.9 L262.4,270.0 L264.4,270.1 L266.3,270.2 L268.2,270.3 L270.2,270.3 L272.1,270.4 L274.0,270.5 L275.9,270.5 L277.9,270.5 L279.8,270.6 L281.7,270.6 L283.7,270.6 L285.6,270.6 L287.5,270.6 L289.5,270.5 L291.4,270.5 A2.6,6.8 0 0 1 291.4,284.0 L289.5,284.1 L287.5,284.1 L285.6,284.2 L283.7,284.2 L281.7,284.3 L279.8,284.4 L277.9,284.4 L275.9,284.5 L274.0,284.6 L272.1,284.6 L270.2,284.7 L268.2,284.8 L266.3,284.9 L264.4,285.0 L262.4,285.0 L260.5,285.1 A2.6,7.8 0 0 1 260.5,269.9 Z" fill="#000" opacity="0.14" filter="url(#halo)"/>
<path d="M261.0,272.5 L262.9,272.6 L264.7,272.7 L266.6,272.8 L268.5,272.9 L270.3,272.9 L272.2,273.0 L274.1,273.1 L275.9,273.1 L277.8,273.1 L279.7,273.2 L281.6,273.2 L283.4,273.2 L285.3,273.2 L287.2,273.2 L289.0,273.1 L290.9,273.1 A2.6,4.2 0 0 1 290.9,281.4 L289.0,281.5 L287.2,281.5 L285.3,281.6 L283.4,281.6 L281.6,281.7 L279.7,281.8 L277.8,281.8 L275.9,281.9 L274.1,282.0 L272.2,282.0 L270.3,282.1 L268.5,282.2 L266.6,282.3 L264.7,282.4 L262.9,282.4 L261.0,282.5 A2.6,5.2 0 0 1 261.0,272.5 Z" fill="rgb(0,0,0)" filter="url(#bl)"/>
<path d="M307.2,270.0 L309.1,270.0 L310.9,269.9 L312.8,269.9 L314.7,269.9 L316.5,269.8 L318.4,269.8 L320.3,269.8 L322.1,269.8 L324.0,269.7 L325.9,269.7 L327.8,269.7 L329.6,269.6 L331.5,269.6 L333.4,269.6 L335.2,269.5 L337.1,269.5 A2.6,6.8 0 0 1 337.1,283.0 L335.2,283.0 L333.4,283.1 L331.5,283.1 L329.6,283.1 L327.8,283.2 L325.9,283.2 L324.0,283.2 L322.1,283.3 L320.3,283.3 L318.4,283.3 L316.5,283.3 L314.7,283.4 L312.8,283.4 L310.9,283.4 L309.1,283.5 L307.2,283.5 A2.6,6.8 0 0 1 307.2,270.0 Z" fill="#000" opacity="0.14" filter="url(#halo)"/>
<path d="M307.7,272.6 L309.5,272.6 L311.3,272.5 L313.1,272.5 L314.9,272.5 L316.7,272.4 L318.5,272.4 L320.3,272.4 L322.1,272.4 L324.0,272.3 L325.8,272.3 L327.6,272.3 L329.4,272.2 L331.2,272.2 L333.0,272.2 L334.8,272.1 L336.6,272.1 A2.6,4.2 0 0 1 336.6,280.4 L334.8,280.4 L333.0,280.5 L331.2,280.5 L329.4,280.5 L327.6,280.6 L325.8,280.6 L324.0,280.6 L322.1,280.7 L320.3,280.7 L318.5,280.7 L316.7,280.7 L314.9,280.8 L313.1,280.8 L311.3,280.8 L309.5,280.9 L307.7,280.9 A2.6,4.2 0 0 1 307.7,272.6 Z" fill="rgb(0,0,0)" filter="url(#bl)"/>
<path d="M351.1,268.6 L353.0,268.7 L355.0,268.7 L356.9,268.8 L358.8,268.9 L360.8,268.9 L362.7,269.0 L364.6,269.0 L366.6,269.0 L368.5,269.0 L370.4,269.0 L372.3,269.0 L374.3,268.9 L376.2,268.9 L378.1,268.8 L380.1,268.7 L382.0,268.6 A2.6,6.5 0 0 1 382.0,281.4 L380.1,281.3 L378.1,281.2 L376.2,281.1 L374.3,281.1 L372.3,281.0 L370.4,281.0 L368.5,281.0 L366.6,281.0 L364.6,281.0 L362.7,281.0 L360.8,281.1 L358.8,281.1 L356.9,281.2 L355.0,281.3 L353.0,281.3 L351.1,281.4 A2.6,6.6 0 0 1 351.1,268.6 Z" fill="#000" opacity="0.14" filter="url(#halo)"/>
<path d="M351.6,271.2 L353.5,271.3 L355.3,271.3 L357.2,271.4 L359.1,271.5 L360.9,271.5 L362.8,271.6 L364.7,271.6 L366.6,271.6 L368.4,271.6 L370.3,271.6 L372.2,271.6 L374.0,271.5 L375.9,271.5 L377.8,271.4 L379.6,271.3 L381.5,271.2 A2.6,3.9 0 0 1 381.5,278.8 L379.6,278.7 L377.8,278.6 L375.9,278.5 L374.0,278.5 L372.2,278.4 L370.3,278.4 L368.4,278.4 L366.6,278.4 L364.7,278.4 L362.8,278.4 L360.9,278.5 L359.1,278.5 L357.2,278.6 L355.3,278.7 L353.5,278.7 L351.6,278.8 A2.6,4.0 0 0 1 351.6,271.2 Z" fill="rgb(0,0,0)" filter="url(#bl)"/>
<path d="M397.1,270.5 L399.1,270.4 L401.2,270.3 L403.2,270.2 L405.3,270.1 L407.3,270.0 L409.4,269.9 L411.4,269.7 L413.4,269.6 L415.5,269.4 L417.5,269.3 L419.6,269.1 L421.6,268.9 L423.7,268.7 L425.7,268.5 L427.8,268.3 L429.8,268.1 A2.6,7.2 0 0 1 429.8,282.2 L427.8,282.1 L425.7,282.0 L423.7,281.9 L421.6,281.9 L419.6,281.8 L417.5,281.7 L415.5,281.7 L413.4,281.6 L411.4,281.5 L409.4,281.5 L407.3,281.4 L405.3,281.4 L403.2,281.3 L401.2,281.2 L399.1,281.2 L397.1,281.1 A2.6,5.2 0 0 1 397.1,270.5 Z" fill="#000" opacity="0.14" filter="url(#halo)"/>
<path d="M397.6,273.1 L399.6,273.0 L401.6,272.9 L403.5,272.8 L405.5,272.7 L407.5,272.6 L409.5,272.5 L411.5,272.3 L413.4,272.2 L415.4,272.0 L417.4,271.9 L419.4,271.7 L421.4,271.5 L423.4,271.3 L425.3,271.1 L427.3,270.9 L429.3,270.7 A2.6,4.7 0 0 1 429.3,279.6 L427.3,279.5 L425.3,279.4 L423.4,279.3 L421.4,279.3 L419.4,279.2 L417.4,279.1 L415.4,279.1 L413.4,279.0 L411.5,278.9 L409.5,278.9 L407.5,278.8 L405.5,278.8 L403.5,278.7 L401.6,278.6 L399.6,278.6 L397.6,278.5 A2.6,2.6 0 0 1 397.6,273.1 Z" fill="url(#bg4)" filter="url(#bl)"/>
<path d="M443.8,267.3 L445.6,267.3 L447.4,267.3 L449.3,267.2 L451.1,267.2 L452.9,267.1 L454.8,267.1 L456.6,267.0 L458.4,267.0 L460.2,267.0 L462.1,266.9 L463.9,266.9 L465.7,266.8 L467.5,266.8 L469.4,266.7 L471.2,266.7 L473.0,266.7 A2.6,7.0 0 0 1 473.0,280.7 L471.2,280.7 L469.4,280.7 L467.5,280.8 L465.7,280.8 L463.9,280.9 L462.1,280.9 L460.2,281.0 L458.4,281.0 L456.6,281.0 L454.8,281.1 L452.9,281.1 L451.1,281.2 L449.3,281.2 L447.4,281.3 L445.6,281.3 L443.8,281.3 A2.6,7.0 0 0 1 443.8,267.3 Z" fill="#000" opacity="0.14" filter="url(#halo)"/>
<path d="M444.3,269.9 L446.1,269.9 L447.8,269.9 L449.6,269.8 L451.4,269.8 L453.1,269.7 L454.9,269.7 L456.6,269.6 L458.4,269.6 L460.2,269.6 L461.9,269.5 L463.7,269.5 L465.4,269.4 L467.2,269.4 L469.0,269.3 L470.7,269.3 L472.5,269.3 A2.6,4.4 0 0 1 472.5,278.1 L470.7,278.1 L469.0,278.1 L467.2,278.2 L465.4,278.2 L463.7,278.3 L461.9,278.3 L460.2,278.4 L458.4,278.4 L456.6,278.4 L454.9,278.5 L453.1,278.5 L451.4,278.6 L449.6,278.6 L447.8,278.7 L446.1,278.7 L444.3,278.7 A2.6,4.4 0 0 1 444.3,269.9 Z" fill="rgb(0,0,0)" filter="url(#bl)"/>
<path d="M487.0,265.4 L489.1,265.6 L491.3,265.8 L493.4,266.0 L495.6,266.1 L497.8,266.2 L499.9,266.3 L502.1,266.3 L504.2,266.3 L506.3,266.3 L508.5,266.2 L510.6,266.0 L512.8,265.9 L514.9,265.7 L517.1,265.5 L519.2,265.2 L521.4,264.9 A2.6,5.8 0 0 1 521.4,275.8 L519.2,275.7 L517.1,275.7 L514.9,275.7 L512.8,275.7 L510.6,275.7 L508.5,275.8 L506.3,276.0 L504.2,276.1 L502.1,276.3 L499.9,276.5 L497.8,276.7 L495.6,277.0 L493.4,277.3 L491.3,277.7 L489.1,278.1 L487.0,278.5 A2.6,7.0 0 0 1 487.0,265.4 Z" fill="#000" opacity="0.14" filter="url(#halo)"/>
<path d="M487.5,268.0 L489.6,268.2 L491.7,268.4 L493.8,268.6 L495.9,268.7 L497.9,268.8 L500.0,268.9 L502.1,268.9 L504.2,268.9 L506.3,268.9 L508.4,268.8 L510.5,268.6 L512.5,268.5 L514.6,268.3 L516.7,268.1 L518.8,267.8 L520.9,267.5 A2.6,3.1 0 0 1 520.9,273.2 L518.8,273.1 L516.7,273.1 L514.6,273.1 L512.5,273.1 L510.5,273.1 L508.4,273.2 L506.3,273.4 L504.2,273.5 L502.1,273.7 L500.0,273.9 L497.9,274.1 L495.9,274.4 L493.8,274.7 L491.7,275.1 L489.6,275.4 L487.5,275.8 A2.6,4.4 0 0 1 487.5,268.0 Z" fill="url(#bg5)" filter="url(#bl)"/>
</g>
<g clip-path="url(#cs4)">
<path d="M132.0,329.9 L134.1,329.9 L136.2,329.9 L138.4,329.9 L140.5,329.9 L142.6,329.9 L144.8,329.8 L146.9,329.8 L149.0,329.8 L151.1,329.8 L153.2,329.7 L155.4,329.7 L157.5,329.7 L159.6,329.6 L161.8,329.6 L163.9,329.5 L166.0,329.5 A2.6,6.6 0 0 1 166.0,342.6 L163.9,342.6 L161.8,342.7 L159.6,342.7 L157.5,342.7 L155.4,342.7 L153.2,342.7 L151.1,342.8 L149.0,342.8 L146.9,342.8 L144.8,342.9 L142.6,342.9 L140.5,342.9 L138.4,343.0 L136.2,343.0 L134.1,343.0 L132.0,343.1 A2.6,6.6 0 0 1 132.0,329.9 Z" fill="#000" opacity="0.14" filter="url(#halo)"/>
<path d="M132.5,332.8 L134.6,332.8 L136.6,332.7 L138.7,332.7 L140.8,332.7 L142.8,332.7 L144.9,332.7 L146.9,332.7 L149.0,332.7 L151.1,332.6 L153.1,332.6 L155.2,332.6 L157.2,332.5 L159.3,332.5 L161.4,332.4 L163.4,332.4 L165.5,332.3 A2.6,3.8 0 0 1 165.5,339.8 L163.4,339.8 L161.4,339.8 L159.3,339.8 L157.2,339.9 L155.2,339.9 L153.1,339.9 L151.1,339.9 L149.0,339.9 L146.9,340.0 L144.9,340.0 L142.8,340.0 L140.8,340.1 L138.7,340.1 L136.6,340.1 L134.6,340.2 L132.5,340.2 A2.6,3.8 0 0 1 132.5,332.8 Z" fill="rgb(0,0,0)" filter="url(#bl)"/>
<path d="M177.5,330.9 L179.7,331.1 L181.8,331.2 L184.0,331.4 L186.2,331.5 L188.3,331.6 L190.5,331.8 L192.6,331.9 L194.8,332.0 L197.0,332.1 L199.1,332.2 L201.3,332.3 L203.4,332.4 L205.6,332.5 L207.8,332.6 L209.9,332.7 L212.1,332.8 A2.6,6.6 0 0 1 212.1,345.9 L209.9,345.8 L207.8,345.7 L205.6,345.6 L203.4,345.4 L201.3,345.3 L199.1,345.2 L197.0,345.1 L194.8,345.0 L192.6,344.9 L190.5,344.8 L188.3,344.7 L186.2,344.6 L184.0,344.5 L181.8,344.5 L179.7,344.4 L177.5,344.3 A2.6,6.8 0 0 1 177.5,330.9 Z" fill="#000" opacity="0.14" filter="url(#halo)"/>
<path d="M178.0,333.8 L180.1,333.9 L182.2,334.1 L184.3,334.2 L186.4,334.4 L188.5,334.5 L190.6,334.6 L192.7,334.7 L194.8,334.9 L196.9,335.0 L199.0,335.1 L201.1,335.2 L203.2,335.3 L205.3,335.4 L207.4,335.5 L209.5,335.6 L211.6,335.6 A2.6,3.8 0 0 1 211.6,343.1 L209.5,343.0 L207.4,342.8 L205.3,342.7 L203.2,342.6 L201.1,342.5 L199.0,342.4 L196.9,342.3 L194.8,342.1 L192.7,342.1 L190.6,342.0 L188.5,341.9 L186.4,341.8 L184.3,341.7 L182.2,341.6 L180.1,341.5 L178.0,341.5 A2.6,3.9 0 0 1 178.0,333.8 Z" fill="rgb(0,0,0)" filter="url(#bl)"/>
<path d="M221.8,333.9 L223.9,333.9 L226.0,333.9 L228.1,333.9 L230.2,333.9 L232.4,333.8 L234.5,333.8 L236.6,333.8 L238.7,333.8 L240.8,333.7 L242.9,333.7 L245.0,333.6 L247.1,333.6 L249.3,333.5 L251.4,333.4 L253.5,333.4 L255.6,333.3 A2.6,6.4 0 0 1 255.6,346.0 L253.5,346.0 L251.4,346.1 L249.3,346.1 L247.1,346.1 L245.0,346.1 L242.9,346.2 L240.8,346.2 L238.7,346.2 L236.6,346.3 L234.5,346.3 L232.4,346.4 L230.2,346.4 L228.1,346.5 L226.0,346.5 L223.9,346.6 L221.8,346.6 A2.6,6.4 0 0 1 221.8,333.9 Z" fill="#000" opacity="0.14" filter="url(#halo)"/>
<path d="M222.3,336.8 L224.3,336.8 L226.4,336.7 L228.4,336.7 L230.5,336.7 L232.5,336.7 L234.6,336.7 L236.6,336.6 L238.7,336.6 L240.8,336.6 L242.8,336.5 L244.8,336.5 L246.9,336.4 L248.9,336.4 L251.0,336.3 L253.0,336.2 L255.1,336.1 A2.6,3.5 0 0 1 255.1,343.2 L253.0,343.2 L251.0,343.2 L248.9,343.2 L246.9,343.3 L244.8,343.3 L242.8,343.3 L240.8,343.4 L238.7,343.4 L236.6,343.4 L234.6,343.5 L232.5,343.5 L230.5,343.6 L228.4,343.6 L226.4,343.7 L224.3,343.7 L222.3,343.8 A2.6,3.5 0 0 1 222.3,336.8 Z" fill="rgb(0,0,0)" filter="url(#bl)"/>
<path d="M264.5,333.8 L266.9,333.8 L269.3,333.8 L271.7,333.8 L274.1,333.8 L276.5,333.8 L278.9,333.8 L281.3,333.8 L283.6,333.8 L286.0,333.8 L288.4,333.8 L290.8,333.7 L293.2,333.8 L295.6,333.8 L298.0,333.8 L300.4,333.8 L302.8,333.8 A2.6,7.8 0 0 1 302.8,349.2 L300.4,349.2 L298.0,349.2 L295.6,349.2 L293.2,349.2 L290.8,349.2 L288.4,349.2 L286.0,349.2 L283.6,349.2 L281.3,349.2 L278.9,349.2 L276.5,349.2 L274.1,349.2 L271.7,349.2 L269.3,349.2 L266.9,349.3 L264.5,349.2 A2.6,7.8 0 0 1 264.5,333.8 Z" fill="#000" opacity="0.14" filter="url(#halo)"/>
<path d="M265.0,336.6 L267.3,336.6 L269.7,336.6 L272.0,336.6 L274.3,336.6 L276.7,336.6 L279.0,336.6 L281.3,336.6 L283.6,336.6 L286.0,336.6 L288.3,336.6 L290.6,336.6 L293.0,336.6 L295.3,336.6 L297.6,336.6 L300.0,336.6 L302.3,336.6 A2.6,4.9 0 0 1 302.3,346.4 L300.0,346.4 L297.6,346.4 L295.3,346.4 L293.0,346.4 L290.6,346.4 L288.3,346.4 L286.0,346.4 L283.6,346.4 L281.3,346.4 L279.0,346.4 L276.7,346.4 L274.3,346.4 L272.0,346.4 L269.7,346.4 L267.3,346.4 L265.0,346.4 A2.6,4.9 0 0 1 265.0,336.6 Z" fill="rgb(0,0,0)" filter="url(#bl)"/>
<path d="M310.6,334.9 L312.8,334.9 L315.0,335.0 L317.2,335.0 L319.4,335.0 L321.5,335.0 L323.7,335.0 L325.9,335.0 L328.1,335.0 L330.3,335.0 L332.5,335.0 L334.7,335.0 L336.8,335.0 L339.0,335.0 L341.2,335.0 L343.4,334.9 L345.6,334.9 A2.6,7.1 0 0 1 345.6,349.1 L343.4,349.1 L341.2,349.0 L339.0,349.0 L336.8,349.0 L334.7,349.0 L332.5,349.0 L330.3,349.0 L328.1,349.0 L325.9,349.0 L323.7,349.0 L321.5,349.0 L319.4,349.0 L317.2,349.0 L315.0,349.0 L312.8,349.1 L310.6,349.1 A2.6,7.1 0 0 1 310.6,334.9 Z" fill="#000" opacity="0.14" filter="url(#halo)"/>
<path d="M311.1,337.8 L313.2,337.8 L315.4,337.8 L317.5,337.8 L319.6,337.8 L321.7,337.8 L323.9,337.8 L326.0,337.8 L328.1,337.9 L330.2,337.8 L332.3,337.8 L334.5,337.8 L336.6,337.8 L338.7,337.8 L340.8,337.8 L343.0,337.8 L345.1,337.8 A2.6,4.2 0 0 1 345.1,346.2 L343.0,346.2 L340.8,346.2 L338.7,346.2 L336.6,346.2 L334.5,346.2 L332.3,346.2 L330.2,346.2 L328.1,346.1 L326.0,346.2 L323.9,346.2 L321.7,346.2 L319.6,346.2 L317.5,346.2 L315.4,346.2 L313.2,346.2 L311.1,346.2 A2.6,4.2 0 0 1 311.1,337.8 Z" fill="rgb(0,0,0)" filter="url(#bl)"/>
<path d="M355.6,335.1 L357.7,335.2 L359.8,335.2 L361.8,335.2 L363.9,335.2 L366.0,335.2 L368.1,335.2 L370.1,335.2 L372.2,335.2 L374.3,335.2 L376.3,335.2 L378.4,335.2 L380.5,335.2 L382.6,335.2 L384.6,335.2 L386.7,335.2 L388.8,335.1 A2.6,6.4 0 0 1 388.8,347.9 L386.7,347.8 L384.6,347.8 L382.6,347.8 L380.5,347.8 L378.4,347.8 L376.3,347.8 L374.3,347.8 L372.2,347.8 L370.1,347.8 L368.1,347.8 L366.0,347.8 L363.9,347.8 L361.8,347.8 L359.8,347.8 L357.7,347.8 L355.6,347.9 A2.6,6.4 0 0 1 355.6,335.1 Z" fill="#000" opacity="0.14" filter="url(#halo)"/>
<path d="M356.1,338.0 L358.1,338.0 L360.1,338.0 L362.1,338.1 L364.1,338.1 L366.2,338.1 L368.2,338.1 L370.2,338.1 L372.2,338.1 L374.2,338.1 L376.2,338.1 L378.2,338.1 L380.2,338.1 L382.3,338.1 L384.3,338.0 L386.3,338.0 L388.3,338.0 A2.6,3.5 0 0 1 388.3,345.0 L386.3,345.0 L384.3,345.0 L382.3,344.9 L380.2,344.9 L378.2,344.9 L376.2,344.9 L374.2,344.9 L372.2,344.9 L370.2,344.9 L368.2,344.9 L366.2,344.9 L364.1,344.9 L362.1,344.9 L360.1,345.0 L358.1,345.0 L356.1,345.0 A2.6,3.5 0 0 1 356.1,338.0 Z" fill="rgb(0,0,0)" filter="url(#bl)"/>
<path d="M400.6,335.9 L402.9,335.6 L405.1,335.4 L407.4,335.2 L409.6,335.0 L411.9,334.8 L414.1,334.6 L416.4,334.4 L418.6,334.2 L420.8,334.1 L423.1,334.0 L425.3,333.9 L427.6,333.7 L429.8,333.6 L432.1,333.6 L434.3,333.5 L436.6,333.4 A2.6,6.1 0 0 1 436.6,345.7 L434.3,345.7 L432.1,345.7 L429.8,345.8 L427.6,345.8 L425.3,345.8 L423.1,345.8 L420.8,345.8 L418.6,345.8 L416.4,345.7 L414.1,345.7 L411.9,345.6 L409.6,345.6 L407.4,345.5 L405.1,345.5 L402.9,345.4 L400.6,345.3 A2.6,4.5 0 0 1 400.6,335.9 Z" fill="#000" opacity="0.14" filter="url(#halo)"/>
<path d="M400.1,338.8 L402.4,338.6 L404.6,338.3 L406.9,338.1 L409.1,337.9 L411.4,337.7 L413.6,337.5 L415.9,337.3 L418.1,337.1 L420.4,337.0 L422.6,336.8 L424.9,336.7 L427.1,336.6 L429.4,336.5 L431.6,336.4 L433.9,336.4 L436.1,336.3 A2.6,3.2 0 0 1 436.1,342.8 L433.9,342.9 L431.6,342.9 L429.4,342.9 L427.1,342.9 L424.9,342.9 L422.6,342.9 L420.4,342.9 L418.1,342.9 L415.9,342.9 L413.6,342.8 L411.4,342.8 L409.1,342.7 L406.9,342.7 L404.6,342.6 L402.4,342.5 L400.1,342.4 A1.6,1.6 0 0 1 400.1,338.8 Z" fill="url(#bg6)" filter="url(#bl)"/>
<path d="M446.6,332.3 L448.6,332.2 L450.7,332.1 L452.7,332.0 L454.8,331.9 L456.8,331.8 L458.9,331.7 L460.9,331.6 L462.9,331.4 L465.0,331.3 L467.0,331.2 L469.1,331.1 L471.1,331.0 L473.2,330.9 L475.2,330.7 L477.3,330.6 L479.3,330.5 A2.6,6.4 0 0 1 479.3,343.2 L477.3,343.3 L475.2,343.4 L473.2,343.4 L471.1,343.5 L469.1,343.6 L467.0,343.7 L465.0,343.8 L462.9,343.9 L460.9,344.1 L458.9,344.2 L456.8,344.3 L454.8,344.4 L452.7,344.6 L450.7,344.7 L448.6,344.9 L446.6,345.0 A2.6,6.4 0 0 1 446.6,332.3 Z" fill="#000" opacity="0.14" filter="url(#halo)"/>
<path d="M447.1,335.1 L449.1,335.0 L451.1,334.9 L453.0,334.8 L455.0,334.7 L457.0,334.6 L459.0,334.5 L461.0,334.4 L462.9,334.3 L464.9,334.2 L466.9,334.1 L468.9,334.0 L470.9,333.8 L472.9,333.7 L474.8,333.6 L476.8,333.5 L478.8,333.3 A2.6,3.5 0 0 1 478.8,340.3 L476.8,340.4 L474.8,340.5 L472.9,340.6 L470.9,340.7 L468.9,340.8 L466.9,340.9 L464.9,341.0 L462.9,341.1 L461.0,341.2 L459.0,341.3 L457.0,341.5 L455.0,341.6 L453.0,341.7 L451.1,341.9 L449.1,342.0 L447.1,342.1 A2.6,3.5 0 0 1 447.1,335.1 Z" fill="rgb(0,0,0)" filter="url(#bl)"/>
<path d="M488.7,329.6 L491.0,329.8 L493.2,329.9 L495.5,330.0 L497.7,330.1 L500.0,330.1 L502.2,330.1 L504.5,330.1 L506.8,330.0 L509.0,329.9 L511.3,329.8 L513.5,329.6 L515.8,329.4 L518.0,329.2 L520.3,329.0 L522.5,328.7 L524.8,328.4 A2.6,5.6 0 0 1 524.8,339.1 L522.5,339.1 L520.3,339.0 L518.0,339.1 L515.8,339.1 L513.5,339.2 L511.3,339.3 L509.0,339.4 L506.8,339.6 L504.5,339.8 L502.2,340.0 L500.0,340.3 L497.7,340.6 L495.5,340.9 L493.2,341.3 L491.0,341.7 L488.7,342.1 A2.6,6.6 0 0 1 488.7,329.6 Z" fill="#000" opacity="0.14" filter="url(#halo)"/>
<path d="M489.2,332.5 L491.4,332.6 L493.6,332.8 L495.8,332.8 L498.0,332.9 L500.2,332.9 L502.4,332.9 L504.6,332.9 L506.8,332.9 L508.9,332.8 L511.1,332.6 L513.3,332.5 L515.5,332.3 L517.7,332.1 L519.9,331.8 L522.1,331.6 L524.3,331.3 A2.6,2.8 0 0 1 524.3,336.3 L522.1,336.2 L519.9,336.2 L517.7,336.2 L515.5,336.3 L513.3,336.3 L511.1,336.4 L508.9,336.6 L506.8,336.8 L504.6,337.0 L502.4,337.2 L500.2,337.4 L498.0,337.7 L495.8,338.1 L493.6,338.4 L491.4,338.8 L489.2,339.2 A2.6,3.8 0 0 1 489.2,332.5 Z" fill="rgb(0,0,0)" filter="url(#bl)"/>
</g>
<rect x="832" y="38" width="4.0" height="309.5" fill="#000"/>
<rect x="832" y="344.5" width="224.7" height="3.0" fill="#000"/>
<rect x="832" y="38.0" width="16.0" height="3" fill="#000"/>
<text x="819" y="51.1" text-anchor="end" class="tk">1.0</text>
<rect x="832" y="99.3" width="16.0" height="3" fill="#000"/>
<text x="819" y="112.5" text-anchor="end" class="tk">0.8</text>
<rect x="832" y="160.6" width="16.0" height="3" fill="#000"/>
<text x="819" y="172.9" text-anchor="end" class="tk">0.6</text>
<rect x="832" y="221.9" width="16.0" height="3" fill="#000"/>
<text x="819" y="233.7" text-anchor="end" class="tk">0.4</text>
<rect x="832" y="283.2" width="16.0" height="3" fill="#000"/>
<text x="819" y="294.4" text-anchor="end" class="tk">0.2</text>
<text x="819" y="354.8" text-anchor="end" class="tk">0</text>
<rect x="860.9" y="225.1" width="32.9" height="119.9" fill="#7f7f7f"/>
<rect x="943" y="98.2" width="33.0" height="246.8" fill="#a1a1a6"/>
<rect x="1024.2" y="172.9" width="32.2" height="172.1" fill="#7f7f7f"/>
<rect x="876.3" y="206.5" width="1.8" height="18.6" fill="#222"/>
<rect x="866.8" y="205.5" width="21.5" height="2.0" fill="#111"/>
<rect x="957.9" y="77.0" width="1.8" height="21.2" fill="#222"/>
<rect x="948" y="76.0" width="21.4" height="2.0" fill="#111"/>
<rect x="1040.0" y="131.5" width="1.8" height="41.4" fill="#222"/>
<rect x="1030.6" y="130.5" width="21.0" height="2.0" fill="#111"/>
<text x="959" y="75.10" text-anchor="middle" class="st">*</text>
<text transform="translate(1040.7,113.9) scale(1,0.96)" text-anchor="middle" class="tr">△</text>
<text transform="translate(723.9,188.3) rotate(-90)" text-anchor="middle" class="yl">Expression level of</text>
<text transform="translate(757.8,189.0) rotate(-90)" text-anchor="middle" class="yl">CHOP protein</text>
<rect x="1234.6" y="37.8" width="3.7" height="308.1" fill="#000"/>
<rect x="1234.6" y="343.2" width="225.3" height="2.7" fill="#000"/>
<rect x="1234.6" y="37.7" width="14.4" height="3" fill="#000"/>
<text x="1220.3" y="51.1" text-anchor="end" class="tk">1.5</text>
<rect x="1234.6" y="140.1" width="14.4" height="3" fill="#000"/>
<text x="1220.3" y="152.8" text-anchor="end" class="tk">1.0</text>
<rect x="1234.6" y="241.1" width="14.4" height="3" fill="#000"/>
<text x="1220.3" y="253.8" text-anchor="end" class="tk">0.5</text>
<text x="1220.3" y="351.1" text-anchor="end" class="tk">0</text>
<rect x="1263" y="200.1" width="33.2" height="143.6" fill="#7f7f7f"/>
<rect x="1344.2" y="108" width="32.8" height="235.7" fill="#a1a1a6"/>
<rect x="1426.8" y="160.9" width="33.1" height="182.8" fill="#7f7f7f"/>
<rect x="1277.9" y="173.2" width="1.8" height="26.9" fill="#222"/>
<rect x="1268" y="172.2" width="21.1" height="2.0" fill="#111"/>
<rect x="1359.8" y="90.9" width="1.8" height="17.1" fill="#222"/>
<rect x="1349.5" y="89.9" width="21.3" height="2.0" fill="#111"/>
<rect x="1441.4" y="130.6" width="1.8" height="30.3" fill="#222"/>
<rect x="1432.1" y="129.6" width="20.9" height="2.0" fill="#111"/>
<text x="1358.5" y="89.10" text-anchor="middle" class="st">*</text>
<text transform="translate(1442.5,117) scale(1,0.96)" text-anchor="middle" class="tr">△</text>
<text transform="translate(1124.8,188.5) rotate(-90)" text-anchor="middle" class="yl">Expression level of</text>
<text transform="translate(1159.3,189.6) rotate(-90)" text-anchor="middle" class="yl">GRP78 protein</text>
<rect x="1642.7" y="36.9" width="3.6" height="308.8" fill="#000"/>
<rect x="1642.7" y="342.2" width="224.7" height="3.5" fill="#000"/>
<rect x="1642.7" y="36.8" width="15.3" height="3" fill="#000"/>
<text x="1628.3" y="51.1" text-anchor="end" class="tk">1.5</text>
<rect x="1642.7" y="138.2" width="15.3" height="3" fill="#000"/>
<text x="1628.3" y="150.9" text-anchor="end" class="tk">1.0</text>
<rect x="1642.7" y="239.7" width="15.3" height="3" fill="#000"/>
<text x="1628.3" y="252.4" text-anchor="end" class="tk">0.5</text>
<text x="1628.3" y="351.1" text-anchor="end" class="tk">0</text>
<rect x="1671.1" y="317.1" width="32.9" height="25.6" fill="#7f7f7f"/>
<rect x="1752.2" y="159" width="32.6" height="183.7" fill="#a1a1a6"/>
<rect x="1834.2" y="284.8" width="33.2" height="57.9" fill="#7f7f7f"/>
<rect x="1686.1" y="302.2" width="1.8" height="14.9" fill="#222"/>
<rect x="1676" y="301.2" width="21.4" height="2.0" fill="#111"/>
<rect x="1767.8" y="138.6" width="1.8" height="20.4" fill="#222"/>
<rect x="1757.9" y="137.6" width="21.4" height="2.0" fill="#111"/>
<rect x="1849.3" y="270.4" width="1.8" height="14.4" fill="#222"/>
<rect x="1839.7" y="269.4" width="21.3" height="2.0" fill="#111"/>
<text x="1767.75" y="137.10" text-anchor="middle" class="st">*</text>
<text transform="translate(1848.5,251.3) scale(1,0.96)" text-anchor="middle" class="tr">△</text>
<text transform="translate(1533,188.3) rotate(-90)" text-anchor="middle" class="yl">Expression level of</text>
<text transform="translate(1566.6,190.5) rotate(-90)" text-anchor="middle" class="yl">p-PERK protein</text>
<text transform="translate(895,367.3) rotate(-45)" text-anchor="end" class="xl">Sham operation</text>
<text transform="translate(979.8,367.5) rotate(-45)" text-anchor="end" class="xl">dMCAO</text>
<text transform="translate(1055.8,367.8) rotate(-45)" text-anchor="end" class="xl">dMCAO+TUG-891</text>
<text transform="translate(1297,367.3) rotate(-45)" text-anchor="end" class="xl">Sham operation</text>
<text transform="translate(1381.8,367.5) rotate(-45)" text-anchor="end" class="xl">dMCAO</text>
<text transform="translate(1457.8,367.8) rotate(-45)" text-anchor="end" class="xl">dMCAO+TUG-891</text>
<text transform="translate(1705,367.3) rotate(-45)" text-anchor="end" class="xl">Sham operation</text>
<text transform="translate(1789.8,367.5) rotate(-45)" text-anchor="end" class="xl">dMCAO</text>
<text transform="translate(1865.8,367.8) rotate(-45)" text-anchor="end" class="xl">dMCAO+TUG-891</text>
<text x="139.9" y="65.9" text-anchor="middle" class="num">1</text>
<text x="186.2" y="65.9" text-anchor="middle" class="num">2</text>
<text x="233.1" y="65.9" text-anchor="middle" class="num">3</text>
<text x="279.9" y="65.9" text-anchor="middle" class="num">4</text>
<text x="327.2" y="65.9" text-anchor="middle" class="num">5</text>
<text x="373.8" y="65.9" text-anchor="middle" class="num">6</text>
<text x="420.6" y="65.9" text-anchor="middle" class="num">7</text>
<text x="467.4" y="65.9" text-anchor="middle" class="num">8</text>
<text x="514.2" y="65.9" text-anchor="middle" class="num">9</text>
<text x="598.6" y="65.8" text-anchor="middle" class="mr">Mr</text>
<text x="1.0" y="121.7" class="lab">CHOP</text>
<text x="1.0" y="176.8" class="lab">GRP78</text>
<text x="1.0" y="231.0" class="lab">p-PERK</text>
<text x="1.0" y="284.7" class="lab">PERK</text>
<text x="1.0" y="339.8" class="lab">β-actin</text>
<text x="655.5" y="121.3" text-anchor="end" class="num">19 000</text>
<text x="655.5" y="176.3" text-anchor="end" class="num">78 000</text>
<text x="655.5" y="229.8" text-anchor="end" class="num">125 000</text>
<text x="655.5" y="284.2" text-anchor="end" class="num">125 000</text>
<text x="655.5" y="338.2" text-anchor="end" class="num">42 000</text>
<text x="333.6" y="601.6" text-anchor="middle" class="pl">A</text>
<text x="877.7" y="601.6" text-anchor="middle" class="pl">B</text>
<text x="1283.6" y="601.6" text-anchor="middle" class="pl">C</text>
<text x="1695.5" y="601.6" text-anchor="middle" class="pl">D</text>
</svg></body></html>
